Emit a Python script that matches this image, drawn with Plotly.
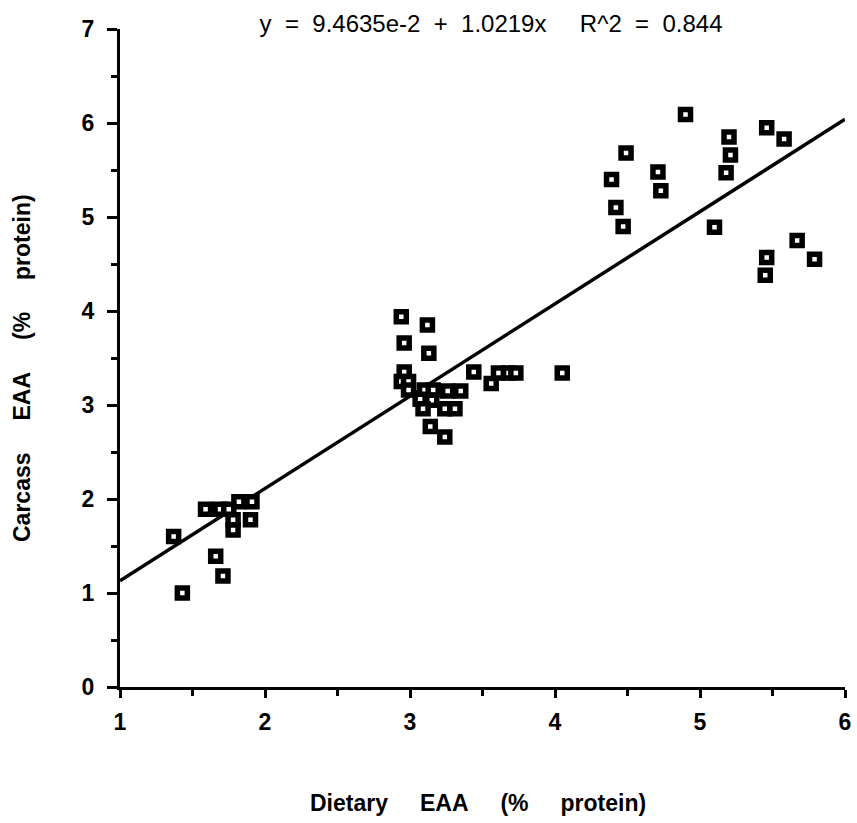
import plotly.graph_objects as go

# Dietary EAA (x) vs Carcass EAA (y)
dietary_eaa = [
    1.37, 1.43, 1.59, 1.69, 1.75, 1.82, 1.91, 1.78, 1.90, 1.78, 1.66, 1.71,
    2.94, 3.12, 2.96, 3.13, 2.96, 2.94, 2.99, 2.99, 3.44, 3.56, 3.61, 3.68, 3.73,
    4.05, 3.10, 3.16, 3.26, 3.35, 3.07, 3.15, 3.09, 3.24, 3.31, 3.14, 3.24,
    4.90, 5.46, 5.58, 5.20, 5.21, 5.18, 4.49, 4.39, 4.71, 4.73, 4.42, 4.47,
    5.10, 5.67, 5.46, 5.79, 5.45,
]
carcass_eaa = [
    1.60, 1.00, 1.89, 1.89, 1.89, 1.97, 1.97, 1.78, 1.78, 1.67, 1.39, 1.18,
    3.94, 3.85, 3.66, 3.55, 3.35, 3.25, 3.25, 3.16, 3.35, 3.23, 3.34, 3.34, 3.34,
    3.34, 3.16, 3.16, 3.15, 3.15, 3.06, 3.05, 2.96, 2.96, 2.96, 2.77, 2.66,
    6.09, 5.95, 5.83, 5.85, 5.66, 5.47, 5.68, 5.40, 5.48, 5.28, 5.10, 4.90,
    4.89, 4.75, 4.57, 4.55, 4.38,
]

# Regression line endpoints
line_x = [1.0, 6.0]
line_y = [1.13, 6.04]

NB = "\u00a0"
title_text = ("y" + NB + " = " + NB + "9.4635e-2" + NB + " + " + NB + "1.0219x"
              + NB * 4 + " R^2" + NB + " = " + NB + "0.844")
gap = NB * 5
x_title = "Dietary" + gap + "EAA" + gap + "(%" + gap + "protein)"
y_title = "Carcass" + gap + "EAA" + gap + "(%" + gap + "protein)"

x_ticks = [1, 2, 3, 4, 5, 6]
y_ticks = [0, 1, 2, 3, 4, 5, 6, 7]

fig = go.Figure()
fig.add_trace(go.Scatter(
    x=line_x, y=line_y, mode="lines",
    line=dict(color="black", width=3.5), showlegend=False, hoverinfo="skip",
))
fig.add_trace(go.Scatter(
    x=dietary_eaa, y=carcass_eaa, mode="markers",
    marker=dict(symbol="square", size=10, color="white",
                line=dict(color="black", width=5.5)),
    showlegend=False,
))

font_family = "Liberation Sans, Arial, sans-serif"
title_font = dict(family=font_family, size=23, color="black", weight="bold")

fig.update_layout(
    width=857, height=823,
    margin=dict(l=120, r=6, t=29, b=136),
    paper_bgcolor="white", plot_bgcolor="white",
    title=dict(text=title_text, x=0.573, xanchor="center", y=0.971, yanchor="middle",
               font=dict(family=font_family, size=24, color="black")),
    xaxis=dict(
        range=[1, 6], tickvals=x_ticks, ticktext=[str(v) for v in x_ticks],
        showline=True, linecolor="black", linewidth=3, mirror=False,
        ticks="outside", ticklen=8, tickwidth=2.5, tickcolor="black",
        ticklabelstandoff=4, ticklabeloverflow="allow",
        minor=dict(dtick=0.5, ticks="outside", ticklen=6, tickwidth=2.5, tickcolor="black"),
        showgrid=False, zeroline=False,
        tickfont=dict(family=font_family, size=23, color="black", weight="bold"),
    ),
    yaxis=dict(
        range=[0, 7], tickvals=y_ticks, ticktext=[str(v) for v in y_ticks],
        showline=True, linecolor="black", linewidth=3, mirror=False,
        ticks="outside", ticklen=10, tickwidth=2.5, tickcolor="black",
        ticklabelstandoff=8, ticklabeloverflow="allow",
        minor=dict(dtick=0.5, ticks="outside", ticklen=6, tickwidth=2.5, tickcolor="black"),
        showgrid=False, zeroline=False,
        tickfont=dict(family=font_family, size=23, color="black", weight="bold"),
    ),
    annotations=[
        dict(text=x_title, xref="paper", yref="paper", x=0.494, y=-0.176,
             xanchor="center", yanchor="middle", showarrow=False, font=title_font),
        dict(text=y_title, xref="paper", yref="paper", x=-0.135, y=0.485,
             xanchor="center", yanchor="middle", textangle=-90, showarrow=False,
             font=title_font),
    ],
)

fig.write_html("out.html")
